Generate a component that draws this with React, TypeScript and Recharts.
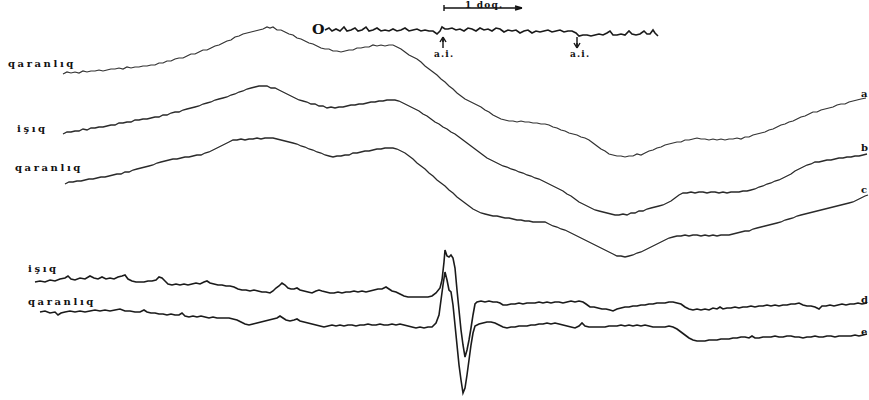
import React from 'react';
import { LineChart, Line, XAxis, YAxis, ReferenceLine } from 'recharts';

type P = [number, number];

// time (t) vs. potential offset (v) for each recorded trace
const markerTrace: P[] = [[325,30],[329,28],[332,31],[336,29],[340,31],[344,27],[347,31],[351,30],[355,28],[358,31],[362,30],[366,27],[369,31],[373,30],[377,28],[381,31],[385,30],[389,31],[393,29],[397,31],[401,30],[405,28],[409,31],[413,30],[417,29],[421,31],[425,30],[429,31],[433,31],[437,34],[440,31],[442,27],[445,29],[448,29],[452,28],[456,30],[460,29],[464,31],[468,28],[472,29],[476,31],[480,28],[484,30],[488,29],[492,31],[496,28],[500,29],[504,32],[508,30],[512,31],[516,30],[520,33],[524,31],[528,30],[532,33],[536,31],[540,32],[544,31],[548,30],[552,32],[556,31],[560,30],[564,32],[568,31],[572,31],[576,33],[579,36],[583,35],[587,35],[591,36],[595,35],[599,34],[603,35],[607,33],[610,31],[613,35],[617,35],[621,34],[625,35],[629,31],[632,34],[636,35],[640,34],[644,31],[647,34],[650,34],[653,30],[655,33],[658,36]];

const traceA: P[] = [[63,74],[67,72],[71,73],[75,72],[79,73],[83,71],[87,72],[91,71],[95,71],[99,70],[103,71],[107,70],[111,69],[115,69],[119,68],[123,69],[127,67],[131,68],[135,67],[139,67],[143,66],[147,66],[151,65],[155,65],[159,63],[163,63],[167,61],[171,61],[175,59],[179,58],[183,58],[187,56],[191,54],[195,54],[199,52],[203,50],[207,50],[211,48],[215,46],[219,45],[223,43],[227,41],[231,40],[235,37],[239,36],[243,34],[247,33],[251,32],[255,31],[259,30],[263,29],[267,27],[270,28],[273,27],[277,30],[281,30],[285,32],[289,34],[293,35],[297,38],[301,39],[305,41],[309,43],[313,44],[317,46],[321,48],[325,49],[329,49],[333,51],[337,51],[341,52],[345,51],[349,50],[353,50],[357,48],[361,48],[365,47],[369,47],[373,45],[377,46],[381,45],[385,46],[389,45],[393,45],[397,47],[401,49],[405,52],[409,55],[413,57],[417,59],[421,62],[425,66],[429,69],[433,72],[437,75],[441,79],[445,82],[449,86],[453,89],[457,93],[461,96],[465,99],[469,101],[473,103],[477,105],[481,107],[485,110],[489,112],[493,115],[497,117],[501,119],[505,120],[509,121],[513,121],[517,122],[521,121],[525,122],[529,122],[533,123],[537,123],[541,124],[545,124],[549,125],[553,127],[557,128],[561,130],[565,131],[569,133],[573,134],[577,135],[581,137],[585,138],[589,140],[593,143],[597,146],[601,149],[605,151],[609,154],[613,155],[617,156],[621,156],[625,157],[629,156],[633,156],[637,154],[641,155],[645,153],[649,151],[653,150],[657,148],[661,147],[665,145],[669,144],[673,143],[677,142],[681,142],[685,140],[689,140],[693,139],[697,138],[701,139],[705,139],[709,140],[713,139],[717,140],[721,139],[725,140],[729,139],[733,139],[737,138],[741,139],[745,137],[749,137],[753,135],[757,134],[761,133],[765,132],[769,130],[773,129],[777,127],[781,125],[785,124],[789,122],[793,121],[797,119],[801,117],[805,116],[809,114],[813,112],[817,112],[821,110],[825,109],[829,108],[833,107],[837,105],[841,104],[845,104],[849,102],[853,101],[857,100],[861,99],[866,98]];

const traceB: P[] = [[63,134],[67,132],[71,132],[75,131],[79,131],[83,129],[87,130],[91,128],[95,128],[99,127],[103,127],[107,126],[111,125],[115,125],[119,123],[123,123],[127,122],[131,122],[135,120],[139,120],[143,119],[147,119],[151,118],[155,117],[159,117],[163,115],[167,115],[171,113],[175,112],[179,112],[183,110],[187,109],[191,108],[195,107],[199,106],[203,104],[207,103],[211,102],[215,100],[219,99],[223,98],[227,97],[231,95],[235,94],[239,92],[243,91],[247,89],[251,88],[255,87],[259,86],[263,86],[267,86],[271,88],[275,88],[279,90],[283,92],[287,94],[291,96],[295,98],[299,100],[303,101],[307,102],[311,104],[315,104],[319,106],[323,106],[327,108],[331,107],[335,108],[339,107],[343,107],[347,106],[351,105],[355,105],[359,104],[363,104],[367,103],[371,102],[375,102],[379,101],[383,101],[387,100],[391,100],[395,100],[399,101],[403,103],[407,105],[411,107],[415,109],[419,111],[423,114],[427,116],[431,119],[435,122],[439,124],[443,127],[447,129],[451,132],[455,134],[459,137],[463,140],[467,143],[471,146],[475,149],[479,152],[483,155],[487,158],[491,160],[495,162],[499,164],[503,166],[507,167],[511,169],[515,170],[519,172],[523,173],[527,175],[531,176],[535,178],[539,179],[543,181],[547,183],[551,185],[555,187],[559,189],[563,191],[567,194],[571,196],[575,199],[579,202],[583,204],[587,206],[591,208],[595,210],[599,211],[603,212],[607,213],[611,214],[615,215],[619,215],[623,214],[627,215],[631,213],[635,213],[639,211],[643,211],[647,209],[651,208],[655,207],[659,206],[663,205],[667,203],[671,201],[675,198],[679,195],[683,193],[687,193],[691,192],[695,193],[699,192],[703,192],[707,193],[711,192],[715,192],[719,193],[723,192],[727,193],[731,192],[735,192],[739,192],[743,191],[747,191],[751,190],[755,189],[759,187],[763,186],[767,184],[771,183],[775,181],[779,180],[783,178],[787,176],[791,174],[795,171],[799,169],[803,167],[807,165],[811,164],[815,162],[819,162],[823,161],[827,160],[831,160],[835,159],[839,158],[843,158],[847,157],[851,157],[855,156],[859,156],[863,155],[867,154]];

const traceC: P[] = [[65,184],[69,182],[73,182],[77,181],[81,181],[85,180],[89,179],[93,179],[97,178],[101,177],[105,177],[109,176],[113,175],[117,174],[121,174],[125,172],[129,172],[133,170],[137,169],[141,168],[145,167],[149,166],[153,165],[157,163],[161,162],[165,161],[169,160],[173,159],[177,159],[181,158],[185,157],[189,157],[193,156],[197,155],[201,155],[205,153],[209,152],[213,150],[217,148],[221,146],[225,144],[229,142],[233,140],[237,140],[241,139],[245,140],[249,139],[253,139],[257,138],[261,139],[265,138],[269,138],[273,138],[277,139],[281,140],[285,141],[289,142],[293,143],[297,144],[301,146],[305,147],[309,149],[313,150],[317,152],[321,153],[325,155],[329,156],[333,157],[337,156],[341,156],[345,155],[349,155],[353,153],[357,153],[361,152],[365,151],[369,151],[373,150],[377,149],[381,149],[385,148],[389,148],[393,148],[397,149],[401,151],[405,153],[409,156],[413,159],[417,163],[421,166],[425,169],[429,173],[433,176],[437,180],[441,183],[445,186],[449,190],[453,193],[457,197],[461,200],[465,203],[469,206],[473,209],[477,211],[481,213],[485,214],[489,215],[493,216],[497,216],[501,217],[505,218],[509,218],[513,219],[517,220],[521,220],[525,221],[529,221],[533,222],[537,222],[541,222],[545,222],[549,224],[553,226],[557,227],[561,229],[565,230],[569,232],[573,234],[577,236],[581,238],[585,240],[589,242],[593,244],[597,246],[601,248],[605,250],[609,252],[613,254],[617,256],[621,256],[625,257],[629,256],[633,255],[637,253],[641,252],[645,250],[649,248],[653,246],[657,244],[661,242],[665,240],[669,238],[673,237],[677,236],[681,236],[685,235],[689,236],[693,235],[697,235],[701,236],[705,235],[709,236],[713,235],[717,236],[721,235],[725,235],[729,235],[733,234],[737,233],[741,232],[745,231],[749,231],[753,229],[757,228],[761,227],[765,226],[769,225],[773,224],[777,223],[781,222],[785,220],[789,219],[793,218],[797,216],[801,215],[805,214],[809,213],[813,212],[817,211],[821,210],[825,209],[829,208],[833,207],[837,206],[841,205],[845,204],[849,203],[853,202],[857,200],[861,198],[865,196],[868,195]];

const traceD: P[] = [[35,282],[40,281],[45,282],[50,280],[55,281],[60,279],[65,278],[68,276],[71,279],[75,280],[80,278],[85,279],[90,276],[94,278],[98,279],[102,277],[106,279],[110,278],[114,279],[118,277],[122,276],[125,275],[128,279],[132,281],[136,282],[140,282],[144,282],[148,281],[152,281],[156,280],[159,277],[162,278],[165,281],[168,284],[172,285],[176,284],[180,285],[184,284],[188,285],[192,284],[196,283],[200,284],[204,282],[207,281],[210,283],[214,284],[218,285],[222,285],[226,286],[230,286],[234,287],[238,289],[242,290],[246,290],[250,291],[254,290],[258,291],[262,292],[266,292],[270,293],[273,291],[276,288],[279,286],[282,283],[285,285],[288,288],[291,289],[294,289],[297,288],[300,290],[304,291],[308,292],[312,293],[316,291],[319,290],[322,291],[326,292],[330,293],[334,293],[338,292],[342,293],[346,292],[350,292],[354,291],[358,292],[362,291],[366,292],[370,291],[374,290],[378,289],[382,289],[386,287],[389,289],[392,291],[396,292],[400,294],[404,296],[408,297],[412,297],[416,297],[420,297],[424,297],[428,297],[432,296],[436,293],[440,288],[442,280],[444,262],[445,250],[447,256],[449,257],[451,255],[453,258],[455,268],[457,290],[459,310],[461,330],[463,345],[465,357],[467,350],[469,340],[471,328],[473,315],[475,304],[477,302],[481,301],[485,302],[489,301],[493,302],[497,302],[500,303],[503,305],[507,305],[511,304],[515,304],[519,303],[523,304],[527,303],[531,303],[535,303],[539,302],[543,303],[547,302],[551,303],[555,302],[559,302],[563,303],[567,302],[571,301],[575,302],[579,301],[583,302],[586,304],[590,307],[594,307],[598,308],[602,309],[606,309],[610,310],[613,311],[617,309],[621,308],[625,307],[629,307],[633,306],[637,306],[641,305],[645,305],[649,304],[653,304],[657,303],[661,303],[665,303],[669,302],[673,302],[677,303],[681,304],[685,307],[689,309],[693,310],[697,309],[701,310],[705,309],[709,310],[713,308],[717,309],[720,307],[723,309],[727,308],[731,308],[735,307],[739,308],[743,307],[747,307],[751,306],[755,307],[759,306],[763,306],[767,305],[771,306],[775,305],[779,306],[783,305],[787,305],[791,304],[795,304],[799,303],[803,305],[807,306],[811,306],[815,307],[819,309],[822,306],[826,306],[830,305],[834,306],[838,305],[842,304],[846,305],[850,304],[854,304],[858,303],[862,304],[867,303]];

const traceE: P[] = [[40,312],[45,311],[50,313],[55,312],[58,315],[61,313],[65,312],[70,311],[75,312],[80,311],[85,312],[90,311],[95,310],[100,311],[105,310],[110,311],[115,310],[120,309],[125,311],[130,311],[135,312],[140,312],[144,310],[147,312],[151,313],[155,313],[159,314],[163,314],[167,315],[171,314],[175,315],[179,315],[182,313],[185,316],[189,317],[193,316],[197,317],[201,316],[205,317],[209,318],[213,317],[217,318],[221,318],[225,318],[229,318],[233,319],[237,320],[241,322],[245,324],[249,325],[253,324],[257,323],[261,322],[265,321],[269,320],[273,319],[277,318],[280,316],[283,318],[286,320],[290,321],[294,320],[297,319],[300,321],[304,322],[308,323],[312,324],[316,325],[320,326],[324,327],[328,326],[332,325],[336,326],[340,325],[344,326],[348,325],[352,325],[356,326],[360,325],[364,325],[368,324],[372,325],[376,325],[380,324],[384,325],[388,325],[392,324],[396,325],[400,324],[404,325],[408,326],[412,327],[416,328],[420,327],[424,328],[428,327],[432,327],[436,323],[439,315],[441,300],[443,285],[445,272],[447,280],[449,290],[451,292],[453,305],[455,325],[457,345],[459,365],[461,380],[463,393],[465,388],[467,375],[469,360],[471,345],[473,333],[475,326],[479,324],[483,323],[487,322],[491,322],[495,323],[499,325],[503,327],[507,328],[511,327],[515,327],[519,326],[523,326],[527,326],[531,325],[535,325],[539,324],[543,324],[547,323],[551,324],[555,323],[559,324],[563,325],[567,326],[571,327],[575,328],[579,326],[582,323],[585,326],[589,327],[593,327],[597,327],[601,327],[605,327],[609,326],[613,326],[617,326],[621,325],[625,326],[629,325],[633,326],[637,325],[641,326],[645,325],[649,326],[653,327],[657,327],[661,327],[665,327],[669,326],[673,327],[677,329],[681,332],[685,335],[689,338],[693,340],[697,341],[701,341],[705,341],[709,340],[713,340],[717,340],[721,339],[725,339],[729,339],[733,338],[737,338],[741,337],[745,337],[749,338],[752,336],[755,338],[759,338],[763,337],[767,337],[771,337],[775,336],[779,337],[783,337],[787,336],[791,336],[795,337],[799,337],[803,338],[807,337],[811,337],[815,336],[819,337],[823,337],[827,336],[831,336],[835,337],[839,336],[843,336],[847,336],[851,336],[855,335],[859,336],[863,335],[867,334]];

// text labels: [text, t, v]
const traceLabels: [string, number, number][] = [
  ['qaranlıq', 8, 64],
  ['işıq', 17, 129],
  ['qaranlıq', 15, 168],
  ['işıq', 28, 269],
  ['qaranlıq', 28, 302],
];
const endLabels: [string, number, number][] = [
  ['a', 861, 94],
  ['b', 861, 148],
  ['c', 861, 190],
  ['d', 861, 300],
  ['e', 861, 332],
];
const markerLabels: [string, number, number][] = [
  ['1 doq.', 465, 5],
  ['a.i.', 434, 54],
  ['a.i.', 570, 54],
];

const toRows = (pts: P[]) => pts.map(([t, v]) => ({ t, v }));

const W = 869;
const H = 400;
const font = '"DejaVu Serif", "Liberation Serif", serif';

const seg = (x1: number, y1: number, x2: number, y2: number) => [
  { x: x1, y: y1 },
  { x: x2, y: y2 },
];

const annotationSegments = [
  // scale bar "1 doq."
  seg(444, 8, 521, 8),
  seg(444, 5, 444, 11),
  seg(522, 8, 515, 6),
  seg(522, 8, 515, 10),
  seg(521, 8, 515, 8),
  // up arrow
  seg(443, 48, 443, 39),
  seg(443, 37, 440, 42),
  seg(443, 37, 446, 42),
  seg(443, 38, 443, 42),
  // down arrow
  seg(577, 37, 577, 46),
  seg(577, 48, 574, 43),
  seg(577, 48, 580, 43),
  seg(577, 47, 577, 43),
];

export default function App() {
  const labelStyle = (x: number, y: number): React.CSSProperties => ({
    position: 'absolute',
    left: x,
    top: y,
    transform: 'translateY(-50%)',
    fontFamily: font,
    fontWeight: 'bold',
    fontSize: 10,
    lineHeight: 1,
    letterSpacing: 2.6,
    color: '#111',
    whiteSpace: 'nowrap',
  });
  return (
    <div
      style={{
        position: 'absolute',
        left: 0,
        top: 0,
        width: W,
        height: H,
        overflow: 'hidden',
        background: '#fff',
      }}
    >
      <LineChart width={W} height={H} margin={{ top: 0, right: 0, bottom: 0, left: 0 }}>
        <XAxis type="number" dataKey="t" domain={[0, W]} hide allowDataOverflow />
        <YAxis type="number" domain={[0, H]} reversed hide allowDataOverflow />
        <Line data={toRows(markerTrace)} dataKey="v" type="linear" dot={false} activeDot={false} stroke="#1a1a1a" strokeWidth={1.6} isAnimationActive={false} />
        <Line data={toRows(traceA)} dataKey="v" type="linear" dot={false} activeDot={false} stroke="#333" strokeWidth={1.2} isAnimationActive={false} />
        <Line data={toRows(traceB)} dataKey="v" type="linear" dot={false} activeDot={false} stroke="#2a2a2a" strokeWidth={1.3} isAnimationActive={false} />
        <Line data={toRows(traceC)} dataKey="v" type="linear" dot={false} activeDot={false} stroke="#2a2a2a" strokeWidth={1.3} isAnimationActive={false} />
        <Line data={toRows(traceD)} dataKey="v" type="linear" dot={false} activeDot={false} stroke="#1a1a1a" strokeWidth={1.6} isAnimationActive={false} />
        <Line data={toRows(traceE)} dataKey="v" type="linear" dot={false} activeDot={false} stroke="#1a1a1a" strokeWidth={1.6} isAnimationActive={false} />
        {annotationSegments.map((s, i) => (
          <ReferenceLine key={i} segment={s} stroke="#111" strokeWidth={1.4} ifOverflow="visible" />
        ))}
      </LineChart>
      {traceLabels.map(([txt, x, y], i) => (
        <div key={'tl' + i} style={labelStyle(x, y)}>{txt}</div>
      ))}
      {endLabels.map(([txt, x, y], i) => (
        <div key={'el' + i} style={{ ...labelStyle(x, y), letterSpacing: 0 }}>{txt}</div>
      ))}
      {markerLabels.map(([txt, x, y], i) => (
        <div key={'ml' + i} style={{ ...labelStyle(x, y), fontSize: 9, letterSpacing: 1.2 }}>{txt}</div>
      ))}
      <div style={{ ...labelStyle(312, 30), fontSize: 12, letterSpacing: 0, transform: 'translateY(-50%) scaleX(1.2)', transformOrigin: 'left center' }}>O</div>
    </div>
  );
}
